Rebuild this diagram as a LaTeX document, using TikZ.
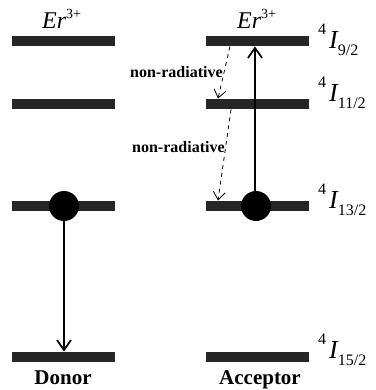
\documentclass[tikz,border=0pt]{standalone}
\usepackage{fontspec}
\setmainfont{Liberation Serif}
\usetikzlibrary{arrows.meta}
\newcommand{\lvl}[1]{\raisebox{14pt}{\fontsize{16}{16}\selectfont 4}\hspace{3pt}{\fontsize{26}{26}\selectfont\itshape I}\raisebox{-7pt}{\fontsize{16}{16}\selectfont #1}}
\newcommand{\erion}{{\fontsize{24}{24}\selectfont\itshape Er}\raisebox{10pt}{\fontsize{14}{14}\selectfont 3+}}
\begin{document}
\begin{tikzpicture}[x=1pt,y=-1pt,
  levelbar/.style={rectangle, fill=black!85, draw=none, minimum width=103pt, minimum height=10.5pt, inner sep=0pt},
  dot/.style={circle, fill=black, minimum size=30pt, inner sep=0pt},
  trans/.style={line width=1.7pt, -{Straight Barb[length=10pt,width=14pt,line width=1.7pt]}},
  nonrad/.style={line width=0.8pt, dash pattern=on 4pt off 4pt, -{Straight Barb[length=8pt,width=12pt,line width=0.8pt]}},
  nrlabel/.style={font=\fontsize{16}{16}\selectfont\bfseries, inner sep=0pt, anchor=base west},
  lvllabel/.style={inner sep=0pt, anchor=base west},
  title/.style={font=\fontsize{21}{21}\selectfont\bfseries, inner sep=0pt, anchor=base},
  ionlabel/.style={inner sep=0pt, anchor=base west}]
\useasboundingbox (0,0) rectangle (375,390);
% donor levels
\node[levelbar] (d1) at (63.5,41) {};
\node[levelbar] (d2) at (63.5,104) {};
\node[levelbar] (d3) at (63.5,206) {};
\node[levelbar] (d4) at (63.5,357) {};
% acceptor levels
\node[levelbar] (a1) at (257,41) {};
\node[levelbar] (a2) at (257,104) {};
\node[levelbar] (a3) at (257,206) {};
\node[levelbar] (a4) at (257,357) {};
% electrons
\node[dot] (dd) at (64,206) {};
\node[dot] (ad) at (256,206) {};
% transitions
\draw[trans] (dd.south) -- (dd.south |- d4.north);
\draw[trans] ([xshift=-1pt]ad.north) -- ([xshift=-1pt]ad.north |- a1.south);
\draw[nonrad] ([xshift=-27pt]a1.south) -- ([xshift=-39pt]a2.north);
\draw[nonrad] ([xshift=-26pt]a2.south) -- ([xshift=-39pt]a3.north);
% labels
\node[nrlabel] (nr1) at (130,78) {non-radiative};
\node[nrlabel] (nr2) at (132,152) {non-radiative};
\node[ionlabel] (er1) at (42,29) {\erion};
\node[ionlabel] (er2) at (237,29) {\erion};
\node[lvllabel] (l1) at (318,49) {\lvl{9/2}};
\node[lvllabel] (l2) at (318,102) {\lvl{11/2}};
\node[lvllabel] (l3) at (318,208) {\lvl{13/2}};
\node[lvllabel] (l4) at (318,358) {\lvl{15/2}};
\node[title] (don) at (63,384) {Donor};
\node[title] (acc) at (260,384) {Acceptor};
\end{tikzpicture}
\end{document}
